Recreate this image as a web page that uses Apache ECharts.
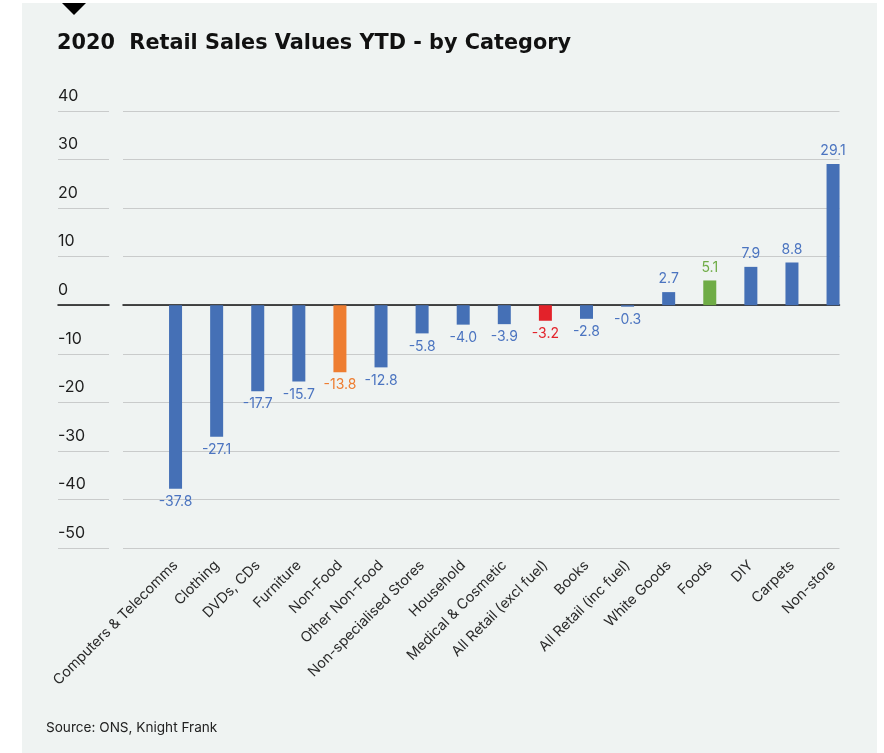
<!DOCTYPE html>
<html>
<head>
<meta charset="utf-8">
<title>2020 Retail Sales Values YTD - by Category</title>
<script src="https://cdn.jsdelivr.net/npm/echarts@6/dist/echarts.min.js"></script>
<style>
  html, body { margin: 0; padding: 0; background: #ffffff; }
  #chart { width: 884px; height: 753px; }
</style>
</head>
<body>
<div id="chart"></div>
<script>
// Year-to-date change in retail sales values, 2020 (%)
const categories = [
  'Computers & Telecomms', 'Clothing', 'DVDs, CDs', 'Furniture', 'Non-Food',
  'Other Non-Food', 'Non-specialised Stores', 'Household', 'Medical & Cosmetic',
  'All Retail (excl fuel)', 'Books', 'All Retail (inc fuel)', 'White Goods',
  'Foods', 'DIY', 'Carpets', 'Non-store'
];
const values = [
  -37.8, -27.1, -17.7, -15.7, -13.8,
  -12.8, -5.8, -4.0, -3.9,
  -3.2, -2.8, -0.3, 2.7,
  5.1, 7.9, 8.8, 29.1
];
const yTicks = [-50, -40, -30, -20, -10, 0, 10, 20, 30, 40];

// Colours
const BLUE = '#4570b6';
const LABEL_BLUE = '#4b74c0';
const accent = {
  'Non-Food': '#ee7d31',
  'All Retail (excl fuel)': '#e3222a',
  'Foods': '#6fac46'
};

const yMin = yTicks[0], yMax = yTicks[yTicks.length - 1], yStep = yTicks[1] - yTicks[0];
const TOP = 111, HEIGHT = 437;
const FONT = 'Inter, "Liberation Sans", sans-serif';

const chart = echarts.init(document.getElementById('chart'), null, { renderer: 'canvas' });

function valueAxis(gridIndex, withLabels) {
  return {
    type: 'value', gridIndex, min: yMin, max: yMax, interval: yStep,
    axisLine: { show: false }, axisTick: { show: false },
    splitLine: { show: true, lineStyle: { color: '#c9cbcb', width: 1.2 } },
    axisLabel: withLabels ? {
      show: true, inside: true, margin: 0, align: 'left', verticalAlign: 'bottom',
      padding: [0, 0, 7, 0],
      color: '#1e1e1e', fontSize: 16, fontFamily: FONT
    } : { show: false }
  };
}

chart.setOption({
  backgroundColor: '#ffffff',
  animation: false,
  graphic: [
    { type: 'rect', z: -10, shape: { x: 22, y: 3, width: 855, height: 750 }, style: { fill: '#eff3f2' } },
    { type: 'polygon', shape: { points: [[62, 3], [86, 3], [74, 15]] }, style: { fill: '#000000' } },
    { type: 'text', left: 57, top: 33, style: { text: '2020  Retail Sales Values YTD - by Category', font: 'bold 20.8px "DejaVu Sans", sans-serif', fill: '#111111' } },
    { type: 'text', left: 46, top: 721, style: { text: 'Source: ONS, Knight Frank', font: '13.6px ' + FONT, fill: '#222222' } }
  ],
  grid: [
    { left: 58, width: 51, top: TOP, height: HEIGHT },
    { left: 123, width: 716.5, top: TOP, height: HEIGHT },
    { left: 155, width: 698.6, top: TOP, height: HEIGHT }
  ],
  xAxis: [
    { type: 'value', gridIndex: 0, min: 0, max: 1, axisLabel: { show: false }, splitLine: { show: false }, axisTick: { show: false },
      axisLine: { show: true, onZero: true, lineStyle: { color: '#111111', width: 1.5 } } },
    { type: 'value', gridIndex: 1, min: 0, max: 1, axisLabel: { show: false }, splitLine: { show: false }, axisTick: { show: false },
      axisLine: { show: true, onZero: true, lineStyle: { color: '#111111', width: 1.5 } } },
    { type: 'category', gridIndex: 2, data: categories, position: 'bottom',
      axisLine: { show: false, onZero: false }, axisTick: { show: false },
      axisLabel: { interval: 0, rotate: 45, margin: 15, color: '#2a2a2a', fontSize: 14.3, fontFamily: FONT } }
  ],
  yAxis: [
    valueAxis(0, true),
    valueAxis(1, false),
    { type: 'value', gridIndex: 2, min: yMin, max: yMax, interval: yStep, show: false, splitLine: { show: false } }
  ],
  series: [{
    type: 'bar',
    xAxisIndex: 2, yAxisIndex: 2,
    barWidth: 13,
    z: 5,
    data: values.map((v, i) => {
      const name = categories[i];
      return {
        value: v,
        itemStyle: { color: accent[name] || BLUE },
        label: {
          position: v < 0 ? 'bottom' : 'top',
          color: accent[name] || LABEL_BLUE
        }
      };
    }),
    label: {
      show: true, distance: 6, fontSize: 14, fontFamily: FONT,
      formatter: p => p.value.toFixed(1)
    }
  }]
});
</script>
</body>
</html>
